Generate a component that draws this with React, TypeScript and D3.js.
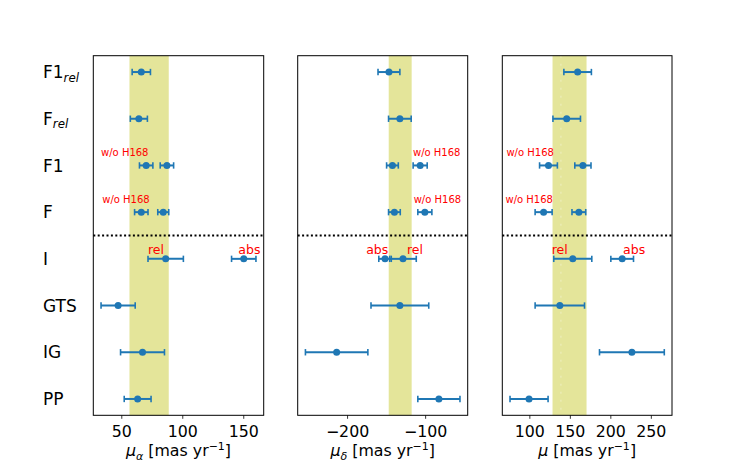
import React from 'react';
import * as d3 from 'd3';

// Rows (top to bottom)
const rowMain = ['F1', 'F', 'F1', 'F', 'I', 'GTS', 'IG', 'PP'];
const rowSub = ['rel', 'rel', '', '', '', '', '', ''];

// mu_alpha
const alphaVal = [66, 64, 70, 66, 86, 47, 67, 63];
const alphaErr = [7.5, 7, 5.5, 5.5, 14.5, 14, 18, 11];
const alphaRow2 = [2, 3, 4];
const alphaVal2 = [87, 84, 150];
const alphaErr2 = [5.5, 4.5, 10];
const alphaBand = [56.3, 88.5];
const alphaTicks = [50, 100, 150];

// mu_delta
const deltaVal = [-147, -133, -142.5, -140, -129, -133, -214, -83];
const deltaErr = [14, 14.5, 7.5, 7.5, 17, 37, 40, 27];
const deltaRow2 = [2, 3, 4];
const deltaVal2 = [-107, -101, -152];
const deltaErr2 = [9, 9, 8];
const deltaBand = [-147.3, -117.9];
const deltaTicks = [-200, -100];

// mu total
const muVal = [159, 145.5, 123, 117, 153, 137, 226, 99];
const muErr = [17, 17, 11, 10.5, 23.5, 30.5, 40, 23.5];
const muRow2 = [2, 3, 4];
const muVal2 = [165.5, 160.5, 214];
const muErr2 = [10, 8.5, 14];
const muBand = [128, 170];
const muTicks = [100, 150, 200, 250];
const muSeam = 138.4;

// annotations: [row, x (data), text, kind]
const alphaNotes: [number, number, string, string][] = [
  [2, 33, 'w/o H168', 'small'],
  [3, 34, 'w/o H168', 'small'],
  [4, 78, 'rel', 'big'],
  [4, 154.6, 'abs', 'big'],
];
const deltaNotes: [number, number, string, string][] = [
  [2, -116.2, 'w/o H168', 'small'],
  [3, -115.3, 'w/o H168', 'small'],
  [4, -162, 'abs', 'big'],
  [4, -113.7, 'rel', 'big'],
];
const muNotes: [number, number, string, string][] = [
  [2, 71.1, 'w/o H168', 'small'],
  [3, 69.9, 'w/o H168', 'small'],
  [4, 136.8, 'rel', 'big'],
  [4, 228.8, 'abs', 'big'],
];

const BLUE = '#1f77b4';
const FONT = 'DejaVu Sans, sans-serif';
const TOP = 55.7;
const BOTTOM = 415.3;

type PanelDef = {
  left: number;
  right: number;
  val: number[];
  err: number[];
  row2: number[];
  val2: number[];
  err2: number[];
  band: number[];
  ticks: number[];
  notes: [number, number, string, string][];
  sub: string;
  seam?: number;
  showY: boolean;
};

function Panel({ p }: { p: PanelDef }) {
  const lo = d3.min([
    ...p.val.map((v, i) => v - p.err[i]),
    ...p.val2.map((v, i) => v - p.err2[i]),
  ]) as number;
  const hi = d3.max([
    ...p.val.map((v, i) => v + p.err[i]),
    ...p.val2.map((v, i) => v + p.err2[i]),
  ]) as number;
  const pad = (hi - lo) * 0.05;
  const x = d3.scaleLinear().domain([lo - pad, hi + pad]).range([p.left, p.right]);
  const n = rowMain.length;
  const y = d3.scaleLinear().domain([-0.35, n - 1 + 0.35]).range([TOP, BOTTOM]);
  const fmt = (t: number) => (t < 0 ? '\u2212' + Math.abs(t) : String(t));

  const pts = [
    ...p.val.map((v, i) => ({ v, e: p.err[i], r: i })),
    ...p.val2.map((v, i) => ({ v, e: p.err2[i], r: p.row2[i] })),
  ];
  const cx = (p.left + p.right) / 2;

  return (
    <g>
      <rect x={x(p.band[0])} y={TOP} width={x(p.band[1]) - x(p.band[0])} height={BOTTOM - TOP} fill="#e4e59a" />
      {p.seam !== undefined && (
        <line x1={x(p.seam)} x2={x(p.seam)} y1={TOP} y2={BOTTOM} stroke="#fff" strokeOpacity={0.4} strokeWidth={1} strokeDasharray="2 6" />
      )}
      <line x1={p.left} x2={p.right} y1={y(3.5)} y2={y(3.5)} stroke="#000" strokeWidth={2} strokeDasharray="2 2.4" />
      {pts.map((d, k) => (
        <g key={k}>
          <line x1={x(d.v - d.e)} x2={x(d.v + d.e)} y1={y(d.r)} y2={y(d.r)} stroke={BLUE} strokeWidth={2} />
          <line x1={x(d.v - d.e)} x2={x(d.v - d.e)} y1={y(d.r) - 3.2} y2={y(d.r) + 3.2} stroke={BLUE} strokeWidth={1.6} />
          <line x1={x(d.v + d.e)} x2={x(d.v + d.e)} y1={y(d.r) - 3.2} y2={y(d.r) + 3.2} stroke={BLUE} strokeWidth={1.6} />
          <circle cx={x(d.v)} cy={y(d.r)} r={3.5} fill={BLUE} />
        </g>
      ))}
      {p.notes.map((nt, k) => (
        <text
          key={k}
          x={x(nt[1])}
          y={nt[3] === 'small' ? y(nt[0]) - 9 : y(nt[0]) - 4.5}
          fill="red"
          fontSize={nt[3] === 'small' ? 10 : 12.5}
          textAnchor={nt[3] === 'small' ? 'start' : 'middle'}
          fontFamily={FONT}
        >
          {nt[2]}
        </text>
      ))}
      <rect x={p.left} y={TOP} width={p.right - p.left} height={BOTTOM - TOP} fill="none" stroke="#000" strokeWidth={1} />
      {p.ticks.map((t) => (
        <g key={t}>
          <line x1={x(t)} x2={x(t)} y1={BOTTOM} y2={BOTTOM + 3.5} stroke="#000" strokeWidth={0.8} />
          <text x={x(t)} y={437} textAnchor="middle" fontSize={15.8} fontFamily={FONT}>
            {fmt(t)}
          </text>
        </g>
      ))}
      <text x={cx} y={456} textAnchor="middle" fontSize={15.8} fontFamily={FONT}>
        <tspan fontStyle="italic">μ</tspan>
        {p.sub && (
          <tspan fontStyle="italic" fontSize={11} dy={3.5}>
            {p.sub}
          </tspan>
        )}
        <tspan dy={p.sub ? -3.5 : 0}> [mas yr</tspan>
        <tspan fontSize={11} dy={-6}>{'\u22121'}</tspan>
        <tspan dy={6}>]</tspan>
      </text>
      {p.showY &&
        rowMain.map((m, i) => (
          <text key={i} x={43} y={y(i) + 6.2} fontSize={17} fontFamily={FONT}>
            {m}
            {rowSub[i] && (
              <tspan fontStyle="italic" fontSize={11.8} dy={3.5}>
                {rowSub[i]}
              </tspan>
            )}
          </text>
        ))}
    </g>
  );
}

export default function App() {
  const panels: PanelDef[] = [
    { left: 93.3, right: 263.7, val: alphaVal, err: alphaErr, row2: alphaRow2, val2: alphaVal2, err2: alphaErr2, band: alphaBand, ticks: alphaTicks, notes: alphaNotes, sub: 'α', showY: true },
    { left: 297.7, right: 467.7, val: deltaVal, err: deltaErr, row2: deltaRow2, val2: deltaVal2, err2: deltaErr2, band: deltaBand, ticks: deltaTicks, notes: deltaNotes, sub: 'δ', showY: false },
    { left: 502.3, right: 672, val: muVal, err: muErr, row2: muRow2, val2: muVal2, err2: muErr2, band: muBand, ticks: muTicks, notes: muNotes, sub: '', seam: muSeam, showY: false },
  ];
  return (
    <svg width={747} height={467} style={{ position: 'absolute', left: 0, top: 0, background: '#fff' }}>
      <rect width={747} height={467} fill="#fff" />
      {panels.map((p, i) => (
        <Panel key={i} p={p} />
      ))}
    </svg>
  );
}
